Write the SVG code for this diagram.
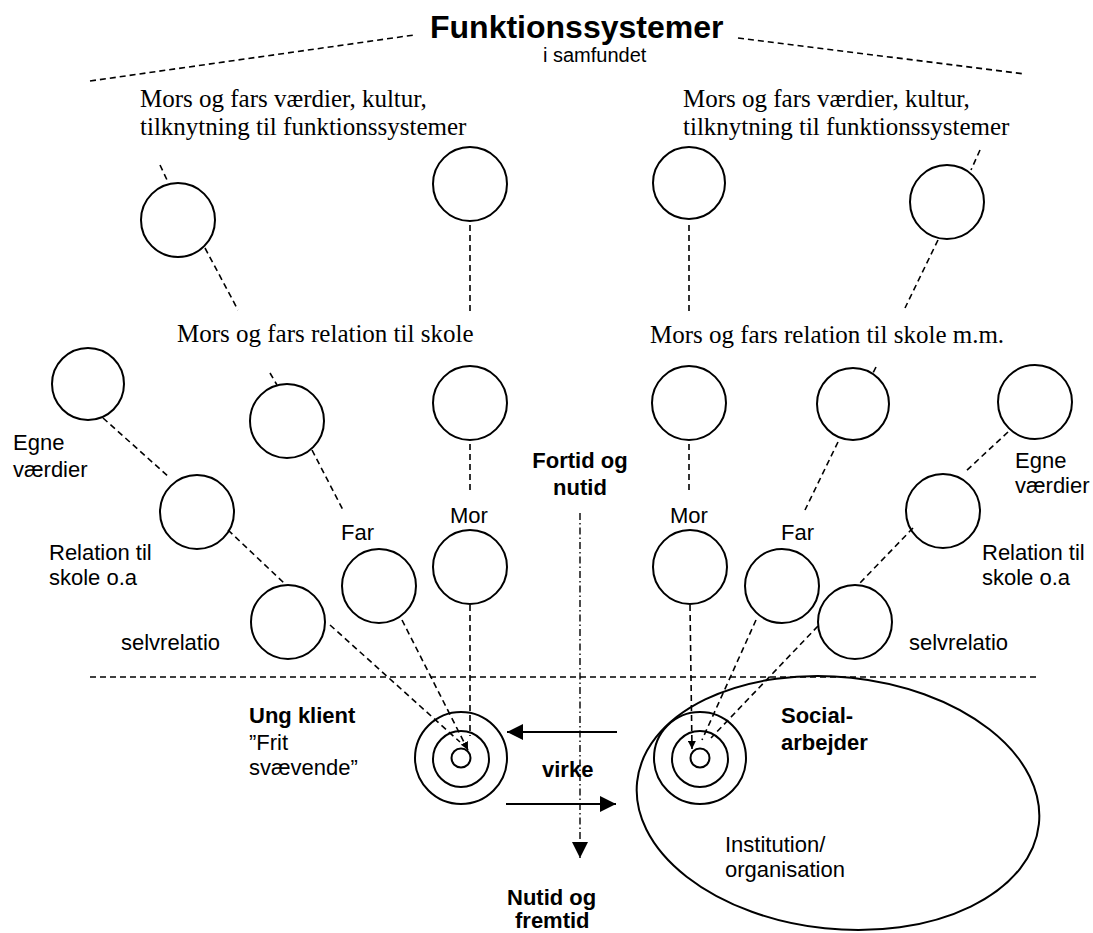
<svg xmlns="http://www.w3.org/2000/svg" width="1093" height="933" viewBox="0 0 1093 933">
<defs>
<style>
.ser{font-family:"Liberation Sans",Arial,sans-serif;font-family:"Liberation Serif","Times New Roman",serif;font-size:25px;fill:#000}
.sans{font-family:"Liberation Sans",Arial,sans-serif;font-size:22px;fill:#000}
.b{font-weight:bold}
.title{font-family:"Liberation Sans",Arial,sans-serif;font-size:32px;font-weight:bold;fill:#000}
.c{fill:none;stroke:#000;stroke-width:2}
.d{fill:none;stroke:#000;stroke-width:1.6;stroke-dasharray:6 4}
.dd{fill:none;stroke:#000;stroke-width:1.4;stroke-dasharray:7 3 1.5 3}
.a{fill:none;stroke:#000;stroke-width:2}
</style>
<marker id="big" viewBox="0 0 10 10" refX="10" refY="5" markerWidth="19" markerHeight="16" markerUnits="userSpaceOnUse" orient="auto"><path d="M0,0 L10,5 L0,10 z" fill="#000"/></marker>
<marker id="small" viewBox="0 0 10 10" refX="10" refY="5" markerWidth="8" markerHeight="8" markerUnits="userSpaceOnUse" orient="auto"><path d="M0,0 L10,5 L0,10 z" fill="#000"/></marker>
</defs>
<rect width="1093" height="933" fill="#fff"/>

<g id="connectors">
<line class="d" x1="90" y1="81" x2="414" y2="35"/>
<line class="d" x1="738" y1="38" x2="1025" y2="74"/>
<line class="d" x1="160" y1="165" x2="168" y2="182"/>
<line class="d" x1="205" y1="248" x2="238" y2="310"/>
<line class="d" x1="270" y1="373" x2="277" y2="385"/>
<line class="d" x1="470" y1="225" x2="470" y2="311"/>
<line class="d" x1="689" y1="225" x2="689" y2="311"/>
<line class="d" x1="980" y1="150" x2="971" y2="170"/>
<line class="d" x1="938" y1="240" x2="905" y2="308"/>
<line class="d" x1="876" y1="367" x2="872" y2="375"/>
<line class="d" x1="103" y1="418" x2="170" y2="478"/>
<line class="d" x1="312" y1="450" x2="343" y2="510"/>
<line class="d" x1="470" y1="444" x2="470" y2="494"/>
<line class="d" x1="689" y1="444" x2="689" y2="494"/>
<line class="d" x1="838" y1="442" x2="805" y2="510"/>
<line class="d" x1="1008" y1="432" x2="965" y2="472"/>
<line class="d" x1="228" y1="530" x2="284" y2="583"/>
<line class="d" x1="913" y1="528" x2="859" y2="584"/>
<line class="d" x1="330" y1="625" x2="460" y2="742"/>
<line class="d" x1="402" y1="620" x2="468" y2="750" marker-end="url(#small)"/>
<line class="d" x1="470" y1="605" x2="470" y2="736"/>
<line class="d" x1="690" y1="605" x2="692" y2="749" marker-end="url(#small)"/>
<line class="d" x1="756" y1="620" x2="702" y2="740"/>
<line class="d" x1="818" y1="626" x2="711" y2="738"/>
<line class="d" x1="90" y1="677" x2="1040" y2="677"/>
<line class="dd" x1="580" y1="513" x2="580" y2="858" marker-end="url(#big)"/>
<line class="a" x1="617" y1="732" x2="507" y2="732" marker-end="url(#big)"/>
<line class="a" x1="506" y1="804" x2="616" y2="804" marker-end="url(#big)"/>
</g>

<g id="title">
<text class="title" x="430" y="38">Funktionssystemer</text>
<text class="sans" x="543" y="62" style="font-size:20px">i samfundet</text>
</g>

<g id="labels-top">
<text class="ser" x="140" y="107">Mors og fars værdier, kultur,</text>
<text class="ser" x="140" y="135">tilknytning til funktionssystemer</text>
<text class="ser" x="683" y="107">Mors og fars værdier, kultur,</text>
<text class="ser" x="683" y="135">tilknytning til funktionssystemer</text>
<text class="ser" x="177" y="342">Mors og fars relation til skole</text>
<text class="ser" x="650" y="343">Mors og fars relation til skole m.m.</text>
</g>

<g id="n1"><circle class="c" cx="178" cy="220" r="37"/></g>
<g id="n2"><circle class="c" cx="470" cy="184" r="37"/></g>
<g id="n3"><circle class="c" cx="689" cy="183" r="36"/></g>
<g id="n4"><circle class="c" cx="947" cy="202" r="37"/></g>

<g id="n5"><circle class="c" cx="88" cy="384" r="36"/>
<text class="sans" x="13" y="450">Egne</text><text class="sans" x="13" y="477">værdier</text></g>
<g id="n6"><circle class="c" cx="287" cy="421" r="37"/></g>
<g id="n7"><circle class="c" cx="470" cy="403" r="37"/></g>
<g id="n8"><circle class="c" cx="689" cy="403" r="37"/></g>
<g id="n9"><circle class="c" cx="853" cy="404" r="36"/></g>
<g id="n10"><circle class="c" cx="1035" cy="402" r="37"/>
<text class="sans" x="1015" y="468">Egne</text><text class="sans" x="1015" y="493">værdier</text></g>

<g id="n11"><circle class="c" cx="197" cy="512" r="37"/>
<text class="sans" x="49" y="560">Relation til</text><text class="sans" x="49" y="585">skole o.a</text></g>
<g id="n12"><circle class="c" cx="379" cy="586" r="37"/>
<text class="sans" x="341" y="540">Far</text></g>
<g id="n13"><circle class="c" cx="470" cy="567" r="37"/>
<text class="sans" x="469" y="523" text-anchor="middle">Mor</text></g>
<g id="n14"><circle class="c" cx="690" cy="567" r="37"/>
<text class="sans" x="689" y="523" text-anchor="middle">Mor</text></g>
<g id="n15"><circle class="c" cx="782" cy="586" r="37"/>
<text class="sans" x="781" y="540">Far</text></g>
<g id="n16"><circle class="c" cx="943" cy="511" r="37"/>
<text class="sans" x="982" y="560">Relation til</text><text class="sans" x="982" y="585">skole o.a</text></g>

<g id="n17"><circle class="c" cx="288" cy="622" r="37"/>
<text class="sans" x="121" y="650">selvrelatio</text></g>
<g id="n18"><circle class="c" cx="855" cy="622" r="37"/>
<text class="sans" x="909" y="650">selvrelatio</text></g>

<g id="fortid">
<text class="sans b" x="580" y="468" text-anchor="middle">Fortid og</text>
<text class="sans b" x="580" y="495" text-anchor="middle">nutid</text>
</g>

<g id="klient">
<circle class="c" cx="461" cy="758" r="46"/>
<circle class="c" cx="461" cy="759" r="28"/>
<circle class="c" cx="461" cy="758" r="9.5"/>
<text class="sans b" x="249" y="723">Ung klient</text>
<text class="sans" x="249" y="750">”Frit</text>
<text class="sans" x="249" y="775">svævende”</text>
</g>

<g id="institution">
<ellipse class="c" cx="838" cy="803" rx="202" ry="126" transform="rotate(6 838 803)"/>
<text class="sans" x="725" y="852">Institution/</text>
<text class="sans" x="725" y="877">organisation</text>
</g>

<g id="socialarbejder">
<circle class="c" cx="700" cy="758" r="46"/>
<circle class="c" cx="700" cy="759" r="28"/>
<circle class="c" cx="700" cy="758" r="9.5"/>
<text class="sans b" x="781" y="723">Social-</text>
<text class="sans b" x="781" y="750">arbejder</text>
</g>

<g id="virke"><text class="sans b" x="542" y="777">virke</text></g>

<g id="nutid">
<text class="sans b" x="507" y="905">Nutid og</text>
<text class="sans b" x="515" y="928">fremtid</text>
</g>
</svg>
